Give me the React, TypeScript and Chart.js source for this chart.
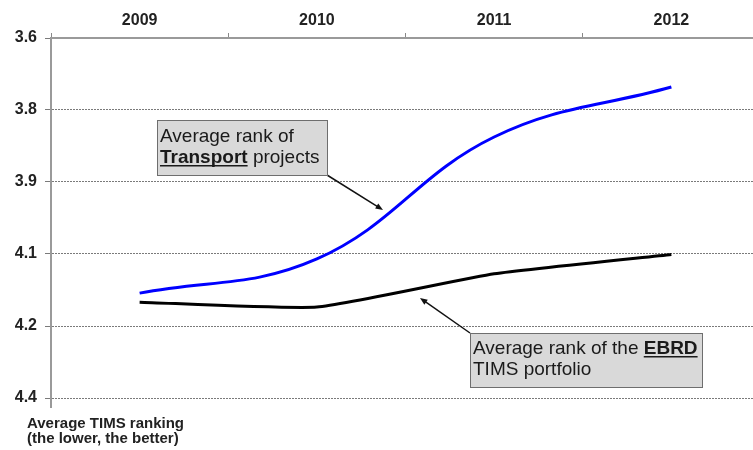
import { useEffect, useRef } from "react";
import { Chart, registerables } from "chart.js";

Chart.register(...registerables);

const categories = ["2009", "2010", "2011", "2012"];
const transportRank = [4.167, 4.091, 3.82, 3.709];
const ebrdRank = [4.187, 4.198, 4.124, 4.081];
const yTickValues = [3.6, 3.76, 3.92, 4.08, 4.24, 4.4];
const yTickLabels = ["3.6", "3.8", "3.9", "4.1", "4.2", "4.4"];
const axisNote = ["Average TIMS ranking", "(the lower, the better)"];
const transportNote = [
  [{ t: "Average rank of", b: false }],
  [{ t: "Transport", b: true }, { t: " projects", b: false }],
];
const ebrdNote = [
  [{ t: "Average rank of the ", b: false }, { t: "EBRD", b: true }],
  [{ t: "TIMS portfolio", b: false }],
];

const FONT = "'Liberation Sans', Arial, sans-serif";

type Seg = { t: string; b: boolean };

function drawNote(ctx: CanvasRenderingContext2D, bx: number, by: number, bw: number, bh: number, lines: Seg[][], tx: number, baseline0: number, lh: number) {
  ctx.save();
  ctx.fillStyle = "#d9d9d9";
  ctx.fillRect(bx, by, bw, bh);
  ctx.strokeStyle = "#6e6e6e";
  ctx.lineWidth = 1;
  ctx.strokeRect(bx + 0.5, by + 0.5, bw, bh);
  ctx.fillStyle = "#1a1a1a";
  ctx.textBaseline = "alphabetic";
  lines.forEach((segs, i) => {
    let x = tx;
    const y = baseline0 + i * lh;
    segs.forEach((s) => {
      ctx.font = `${s.b ? "bold " : ""}19px ${FONT}`;
      ctx.fillText(s.t, x, y);
      const w = ctx.measureText(s.t).width;
      if (s.b) {
        ctx.fillRect(x, y + 2, w, 1.5);
      }
      x += w;
    });
  });
  ctx.restore();
}

function drawArrow(ctx: CanvasRenderingContext2D, x1: number, y1: number, x2: number, y2: number) {
  ctx.save();
  ctx.strokeStyle = "#111";
  ctx.fillStyle = "#111";
  ctx.lineWidth = 1.5;
  const ang = Math.atan2(y2 - y1, x2 - x1);
  const hl = 8;
  const ex = x2 - Math.cos(ang) * hl * 0.8;
  const ey = y2 - Math.sin(ang) * hl * 0.8;
  ctx.beginPath();
  ctx.moveTo(x1, y1);
  ctx.lineTo(ex, ey);
  ctx.stroke();
  ctx.beginPath();
  ctx.moveTo(x2, y2);
  ctx.lineTo(x2 - hl * Math.cos(ang - 0.38), y2 - hl * Math.sin(ang - 0.38));
  ctx.lineTo(x2 - hl * Math.cos(ang + 0.38), y2 - hl * Math.sin(ang + 0.38));
  ctx.closePath();
  ctx.fill();
  ctx.restore();
}

const notesPlugin = {
  id: "notes",
  afterDatasetsDraw(chart: any) {
    const ctx = chart.ctx as CanvasRenderingContext2D;
    drawArrow(ctx, 327, 175, 383, 210);
    drawArrow(ctx, 470, 333, 420, 298);
    drawNote(ctx, 157, 120, 170, 55, transportNote, 160, 142, 21);
    drawNote(ctx, 470, 333, 232, 54, ebrdNote, 473, 354, 21);
  },
  afterDraw(chart: any) {
    const ctx = chart.ctx as CanvasRenderingContext2D;
    const a = chart.chartArea;
    ctx.save();
    ctx.strokeStyle = "#999";
    ctx.lineWidth = 2;
    ctx.beginPath();
    ctx.moveTo(a.left, a.bottom);
    ctx.lineTo(a.left, a.bottom + 10);
    ctx.stroke();
    ctx.fillStyle = "#222";
    ctx.font = `bold 15px ${FONT}`;
    ctx.textBaseline = "alphabetic";
    ctx.fillText(axisNote[0], 27, 428);
    ctx.fillText(axisNote[1], 27, 443);
    ctx.restore();
  },
};

export default function App() {
  const ref = useRef<HTMLCanvasElement | null>(null);
  useEffect(() => {
    if (!ref.current) return;
    const chart = new Chart(ref.current, {
      type: "line",
      data: {
        labels: categories,
        datasets: [
          {
            label: "Transport",
            data: transportRank,
            borderColor: "#0000ff",
            borderWidth: 3,
            pointRadius: 0,
            tension: 0.4,
            fill: false,
          },
          {
            label: "EBRD",
            data: ebrdRank,
            borderColor: "#000000",
            borderWidth: 3,
            pointRadius: 0,
            tension: 0.15,
            fill: false,
          },
        ],
      },
      options: {
        animation: false,
        responsive: true,
        maintainAspectRatio: false,
        layout: { padding: { left: 0, right: 2, top: 0, bottom: 52 } },
        plugins: {
          legend: { display: false },
          tooltip: { enabled: false },
        },
        scales: {
          x: {
            type: "category",
            position: "top",
            offset: true,
            afterFit: (s: any) => {
              s.height = 38;
            },
            grid: {
              offset: true,
              drawOnChartArea: false,
              drawTicks: true,
              tickLength: 5,
              color: "#888",
              lineWidth: 1,
            },
            border: { color: "#9a9a9a", width: 2 },
            ticks: {
              font: { family: FONT, size: 16, weight: "bold" },
              color: "#222",
              padding: 3,
              maxRotation: 0,
              autoSkip: false,
            },
          },
          y: {
            type: "linear",
            reverse: true,
            min: 3.6,
            max: 4.4,
            afterFit: (s: any) => {
              s.width = 51;
            },
            afterBuildTicks: (s: any) => {
              s.ticks = yTickValues.map((v) => ({ value: v }));
            },
            grid: {
              color: "#7a7a7a",
              lineWidth: 1,
              tickLength: 6,
            },
            border: { color: "#9a9a9a", width: 2, dash: [2, 1] },
            ticks: {
              font: { family: FONT, size: 16, weight: "bold" },
              color: "#222",
              padding: 8,
              callback: (_v: any, i: number) => yTickLabels[i],
            },
          },
        },
      },
      plugins: [notesPlugin],
    } as any);
    return () => chart.destroy();
  }, []);
  return (
    <div style={{ position: "fixed", left: 0, top: 0, width: 753, height: 450, overflow: "hidden", background: "#fff" }}>
      <div style={{ position: "relative", width: 762, height: 450 }}>
        <canvas ref={ref} />
      </div>
    </div>
  );
}
